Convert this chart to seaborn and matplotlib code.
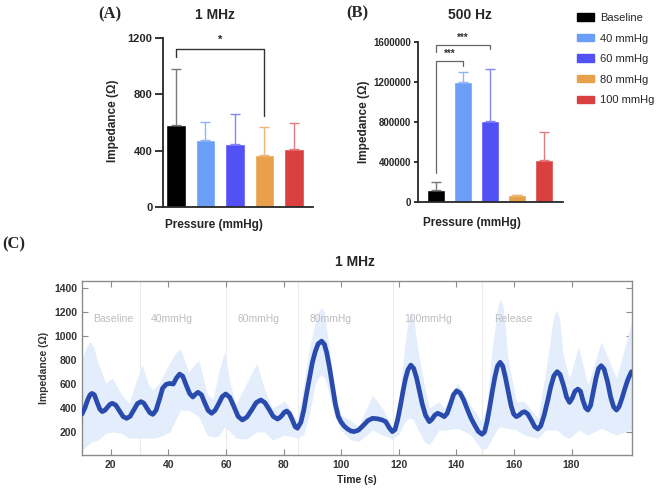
import numpy as np
import pandas as pd
import seaborn as sns
import matplotlib.pyplot as plt

# bar panels
conditions = ['Baseline', '40 mmHg', '60 mmHg', '80 mmHg', '100 mmHg']
bar_colors = ['#000000', '#6B9EF7', '#5151F5', '#E9A04A', '#DB4040']
err_colors = ['#7A7A7A', '#8DB5F8', '#8585F6', '#EDB678', '#E27C7C']

mhz_mean = [580, 475, 450, 370, 415]
mhz_upper = [980, 605, 660, 565, 595]
hz_mean = [120000, 1200000, 805000, 65000, 415000]
hz_upper = [200000, 1295000, 1330000, 68000, 695000]

# time course at 1 MHz (mean line)
time_s = [10, 11, 12, 12.8, 13.5, 14.3, 15.2, 16.2, 17, 17.9, 18.8, 19.7, 20.5,
          21.7, 23, 24.3, 25.5, 26.7, 28, 29.3, 30.5, 31.5, 32.5, 33.6, 34.6,
          35.7, 36.9, 38, 39.2, 40.4, 41.7, 42.8, 43.9, 45, 46.2, 47.4, 48.5,
          49.4, 50.3, 51.5, 52.6, 53.8, 55, 56.2, 57.5, 58.7, 59.9, 61.3, 62.8,
          64.2, 65.7, 67.3, 68.9, 70.5, 72.1, 73.5, 75, 76.4, 77.9, 78.7, 79.5,
          80.3, 81.1, 82, 83, 84, 84.8, 86, 87, 88, 89, 90, 91, 92, 93.2, 94.2,
          95, 96, 97, 98, 99, 99.9, 101, 102.2, 103.4, 104.5, 106, 107.7, 109.3,
          110.9, 112.6, 114.3, 115.5, 116.7, 117.8, 118.7, 119.6, 120.5, 121.4,
          122.3, 123.2, 124.2, 125.2, 126.2, 127.2, 128.2, 129.3, 130.6, 131.5,
          132.5, 133.5, 134.6, 135.8, 136.8, 137.9, 139, 140.1, 141.3, 142.5,
          143.8, 145, 146.3, 147.6, 148.9, 149.8, 150.7, 151.6, 152.5, 153.4,
          154.3, 155.2, 156.1, 157, 158, 159, 159.9, 160.8, 161.8, 162.8, 163.7,
          164.8, 166, 167.2, 168.3, 169.3, 170.5, 171.7, 172.8, 173.9, 175, 176,
          177.2, 178.3, 179.3, 180.2, 181.2, 182.2, 183.1, 184, 184.9, 185.7,
          186.6, 187.5, 188.5, 189.4, 190.3, 191.3, 192.5, 193.6, 194.6, 195.6,
          196.5, 197.5, 198.5, 199.6, 200.8]
impedance = [350, 400, 470, 510, 522, 510, 450, 390, 370, 380, 405, 430, 439,
             425, 377, 328, 314, 330, 384, 438, 453, 440, 400, 360, 347,
             380, 472, 565, 597, 605, 600, 650, 683, 665, 590, 520, 492,
             515, 531, 510, 445, 380, 356, 380, 437, 495, 517, 490, 410,
             330, 300, 325, 383, 445, 467, 445, 388, 330, 308, 320, 340,
             365, 375, 355, 303, 245, 231, 280, 380, 520, 650, 780, 870, 935, 958, 930,
             860, 730, 580, 430, 330, 286, 250, 225, 208, 203, 215, 255, 295,
             314, 310, 300, 285, 235, 203, 220, 300, 410, 530,
             640, 720, 758, 730, 650, 540, 430, 340, 286, 305,
             340, 356, 345, 328, 355, 430, 510, 544, 525, 470,
             390, 320, 260, 205, 181, 200, 290, 410, 540, 660,
             750, 781, 750, 660, 540, 420, 350, 328, 340, 362, 369,
             350, 300, 245, 225, 250, 340, 460, 580, 670, 703, 680,
             590, 490, 447, 480, 540, 558, 540, 460, 400, 383,
             420, 530, 650, 730, 753, 725, 620, 490, 410, 383,
             410, 480, 560, 640, 703]

# spread band
band_t = [10, 11.5, 12.9, 14.2, 15.5, 18.2, 20.6, 23.5, 26.4, 28.5, 30.9, 33, 34.4, 36.9,
          40.5, 42.5, 44.2, 47, 50.5, 53.5, 55.5, 57.5, 59.5, 61.5, 63.4, 67, 70.7, 73.5,
          76.1, 80.4, 84.8, 87, 89, 91, 92.2, 93.2, 94.2, 95, 97.5, 99.9, 103, 106, 110.9,
          114.3, 117.8, 120, 122, 123.3, 124.2, 125.2, 126.5, 128.9, 130.6, 134, 135.8,
          140.5, 145, 148.9, 150.5, 152.5, 154.3, 155.3, 156.3, 158, 160.8, 163.7, 168.3,
          171, 173.7, 174.7, 175.8, 177, 179.3, 182.4, 185.7, 190.3, 195.6, 200.8]
band_hi = [800, 910, 953, 900, 780, 608, 650, 520, 440, 600, 758, 600, 550, 608,
           780, 860, 892, 700, 800, 520, 470, 700, 868, 600, 430, 600, 772, 550,
           400, 458, 290, 600, 900, 1120, 1210, 1236, 1200, 1050, 600, 342, 300, 244, 508,
           397, 244, 450, 900, 1130, 1203, 1150, 900, 592, 400, 453, 397,
           606, 420, 286, 400, 900, 1230, 1314, 1240, 800, 453, 453, 314,
           700, 1150, 1217, 1150, 850, 647, 911, 592, 953, 647, 1106]
band_lo = [50, 80, 110, 120, 130, 190, 200, 190, 150, 150, 150, 150, 145, 160,
           200, 300, 383, 380, 330, 175, 160, 165, 244, 200, 150, 140, 200, 200,
           133, 175, 150, 180, 350, 600, 660, 675, 650, 600, 350, 217, 140, 119, 217,
           175, 140, 180, 280, 310, 314, 300, 230, 119, 92, 217, 217,
           231, 175, 50, 64, 150, 230, 244, 240, 230, 217, 175, 147,
           217, 217, 217, 200, 170, 147, 217, 175, 231, 175, 217]

phase_edges = [30, 60, 85, 118, 149]
phase_names = ['Baseline', '40mmHg', '60mmHg', '80mmHg', '100mmHg', 'Release']
phase_label_x = [14, 34, 64, 89, 122, 153]

sns.set_style("ticks")
plt.rcParams['font.family'] = ['Liberation Sans', 'DejaVu Sans']
plt.rcParams['font.weight'] = 'bold'

fig = plt.figure(figsize=(6.58, 4.93), dpi=100)


def bar_panel(ax, means, uppers, ylim, yticks, tick_size, tick_len, tick_pad):
    df = pd.DataFrame({'cond': conditions, 'val': means})
    sns.barplot(data=df, x='cond', y='val', hue='cond', palette=bar_colors,
                saturation=1, width=0.66, legend=False, ax=ax)
    for i in range(len(means)):
        ax.errorbar(i, means[i], yerr=[[0], [uppers[i] - means[i]]], color=err_colors[i],
                    lw=1, capsize=3.5, capthick=1, zorder=1)
    sns.despine(ax=ax)
    ax.spines['left'].set_linewidth(1.3)
    ax.spines['bottom'].set_linewidth(1.3)
    ax.set_ylim(*ylim)
    ax.set_yticks(yticks)
    ax.ticklabel_format(axis='y', style='plain', useOffset=False)
    ax.set_xticks([])
    ax.set_xlabel('Pressure (mmHg)', fontsize=8.5, fontweight='bold')
    ax.set_ylabel('Impedance (Ω)', fontsize=8.5, fontweight='bold')
    ax.tick_params(axis='y', labelsize=tick_size, width=1.3, length=tick_len, pad=tick_pad)
    for lab in ax.get_yticklabels():
        lab.set_fontweight('bold')


# (A) 1 MHz
ax_a = fig.add_axes([0.2477, 0.580, 0.228, 0.343])
bar_panel(ax_a, mhz_mean, mhz_upper, (0, 1200), [0, 400, 800, 1200], 8, 6, 1.5)
ax_a.set_xlim(-0.44, 4.65)
ax_a.xaxis.set_label_coords(0.34, -0.07)
ax_a.yaxis.set_label_coords(-0.29, 0.51)
ax_a.plot([0, 0, 3, 3], [1064, 1122, 1122, 646], color='#333333', lw=1, clip_on=False)
ax_a.text(1.5, 1150, '*', ha='center', va='bottom', fontsize=8, fontweight='bold')

# (B) 500 Hz
ax_b = fig.add_axes([0.635, 0.5903, 0.2204, 0.3245])
bar_panel(ax_b, hz_mean, hz_upper, (0, 1600000),
          [0, 400000, 800000, 1200000, 1600000], 7, 3, 2)
ax_b.set_xlim(-0.67, 4.7)
ax_b.xaxis.set_label_coords(0.37, -0.095)
ax_b.yaxis.set_label_coords(-0.33, 0.5)
ax_b.plot([0, 0, 1, 1], [290000, 1410000, 1410000, 1360000], color='#666666', lw=0.9,
          clip_on=False)
ax_b.plot([0, 0, 2, 2], [1500000, 1570000, 1570000, 1530000], color='#666666', lw=0.9,
          clip_on=False)
ax_b.text(0.5, 1430000, '***', ha='center', va='bottom', fontsize=7, color='#333333')
ax_b.text(1.0, 1590000, '***', ha='center', va='bottom', fontsize=7, color='#333333')

handles = [plt.Rectangle((0, 0), 1, 1, color=c) for c in bar_colors]
fig.legend(handles, conditions, loc='upper left', bbox_to_anchor=(577 / 658, 1 - 13 / 493),
           frameon=False, prop={'size': 8, 'weight': 'normal'}, handlelength=1.55,
           handleheight=0.65, handletextpad=0.5, labelspacing=0.95, borderpad=0,
           borderaxespad=0)

# (C) time course
ax_c = fig.add_axes([0.1246, 0.0771, 0.8359, 0.353])
ax_c.fill_between(band_t, band_lo, band_hi, color='#E3EDFB', lw=0, zorder=1)
line_df = pd.DataFrame({'Time': time_s, 'Impedance': impedance})
sns.lineplot(data=line_df, x='Time', y='Impedance', color='#2A4BAE', lw=3.4,
             ax=ax_c, zorder=3, solid_joinstyle='round', solid_capstyle='round')
for edge in phase_edges:
    ax_c.axvline(edge, color='#EBEBEB', lw=0.8, zorder=0)
for name, xpos in zip(phase_names, phase_label_x):
    ax_c.text(xpos, 1140, name, ha='left', va='center', fontsize=7.5,
              fontweight='normal', color='#BDBDBD')
ax_c.set_xlim(10, 201)
ax_c.set_ylim(8, 1460)
ax_c.set_xticks([20, 40, 60, 80, 100, 120, 140, 160, 180])
ax_c.set_yticks([200, 400, 600, 800, 1000, 1200, 1400])
for sp in ax_c.spines.values():
    sp.set_color('#8C8C8C')
    sp.set_linewidth(1)
ax_c.tick_params(direction='in', length=4, color='#8C8C8C', top=True, right=True,
                 labelsize=7.5, labelcolor='#333333')
for lab in ax_c.get_xticklabels() + ax_c.get_yticklabels():
    lab.set_fontweight('bold')
ax_c.set_xlabel('Time (s)', fontsize=7.5, fontweight='bold')
ax_c.set_ylabel('Impedance (Ω)', fontsize=7.5, fontweight='bold', color='#333333')

# titles and panel letters
fig.text(0.327, 0.970, '1 MHz', ha='center', va='center', fontsize=10, fontweight='bold')
fig.text(0.714, 0.970, '500 Hz', ha='center', va='center', fontsize=10, fontweight='bold')
fig.text(0.540, 0.469, '1 MHz', ha='center', va='center', fontsize=10, fontweight='bold')
for letter, xy in [('(A)', (0.149, 0.970)), ('(B)', (0.526, 0.973)), ('(C)', (0.004, 0.505))]:
    fig.text(xy[0], xy[1], letter, ha='left', va='center', fontsize=12,
             fontweight='bold', family=['Liberation Serif', 'DejaVu Serif'])

fig.savefig('out.png', dpi=100)
